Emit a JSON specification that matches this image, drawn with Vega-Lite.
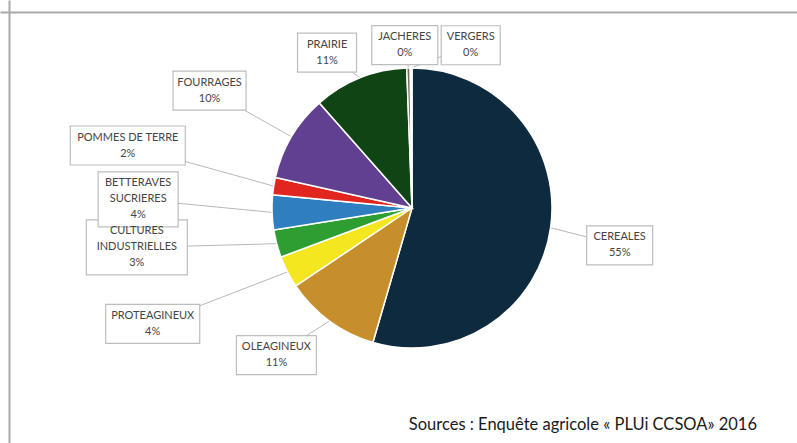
{
  "$schema": "https://vega.github.io/schema/vega-lite/v6.json",
  "autosize": {"type": "none"},
  "width": 797,
  "height": 443,
  "padding": 0,
  "background": "white",
  "title": {
    "text": "Sources : Enquête agricole « PLUi CCSOA» 2016",
    "orient": "bottom",
    "anchor": "end",
    "frame": "group",
    "offset": -26,
    "dx": -40,
    "font": "Lato",
    "fontSize": 16.5,
    "fontWeight": "normal",
    "color": "#1a1a1a"
  },
  "data": {
    "values": [
      {"crop": "CEREALES", "share": 54.5},
      {"crop": "OLEAGINEUX", "share": 11.1},
      {"crop": "PROTEAGINEUX", "share": 3.7},
      {"crop": "CULTURES INDUSTRIELLES", "share": 3.2},
      {"crop": "BETTERAVES SUCRIERES", "share": 4.0},
      {"crop": "POMMES DE TERRE", "share": 2.0},
      {"crop": "FOURRAGES", "share": 10.0},
      {"crop": "PRAIRIE", "share": 10.9},
      {"crop": "JACHERES", "share": 0.4},
      {"crop": "VERGERS", "share": 0.2}
    ]
  },
  "transform": [
    {"window": [{"op": "sum", "field": "share", "as": "c1"}, {"op": "row_number", "as": "i"}]},
    {"calculate": "datum.c1 - datum.share", "as": "c0"},
    {"calculate": "(datum.c1 - datum.share / 2) / 100 * 2 * PI", "as": "mid"},
    {"calculate": "datum.mid + [2.1, 6.5, 3.1, 6.6, 3.6, 3.4, -0.5, -6.9, -1.1, 20.2][datum.i - 1] * PI / 180", "as": "la"},
    {"calculate": "[211, 200, 284, 278, 274, 291, 234, 177, 163, 173][datum.i - 1]", "as": "lr"},
    {"calculate": "datum.lr * sin(datum.la)", "as": "lx"},
    {"calculate": "-datum.lr * cos(datum.la)", "as": "ly"},
    {"calculate": "140 * sin(datum.mid)", "as": "ex"},
    {"calculate": "-140 * cos(datum.mid)", "as": "ey"},
    {"calculate": "round(datum.share) + '%'", "as": "pct"},
    {"calculate": "length(split(datum.crop, ' ')) == 2 ? replace(datum.crop, ' ', '\\n') : datum.crop", "as": "nm"},
    {"calculate": "datum.nm + '\\n' + datum.pct", "as": "txt"},
    {"calculate": "length(split(datum.nm, '\\n')) + 1", "as": "nl"},
    {"calculate": "datum.ly - (datum.nl - 1) * 8", "as": "ty"},
    {"calculate": "max(length(split(datum.nm + '\\n', '\\n')[0]), length(split(datum.nm + '\\n', '\\n')[1]))", "as": "ml"},
    {"calculate": "datum.lx - (3.5 * datum.ml + 5)", "as": "bx0"},
    {"calculate": "datum.lx + (3.5 * datum.ml + 5)", "as": "bx1"},
    {"calculate": "datum.ly - (8 * datum.nl + 3.5)", "as": "by0"},
    {"calculate": "datum.ly + (8 * datum.nl + 3.5)", "as": "by1"}
  ],
  "encoding": {
    "x": {"type": "quantitative",
          "scale": {"domain": [-412, 385], "nice": false, "zero": false},
          "axis": {"orient": "top", "offset": -12, "domain": true, "domainColor": "#a9a9a9", "domainWidth": 2, "ticks": false, "labels": false, "grid": false, "title": null}},
    "y": {"type": "quantitative",
          "scale": {"domain": [-208, 235], "nice": false, "zero": false, "reverse": true},
          "axis": {"orient": "left", "offset": -9, "domain": true, "domainColor": "#a9a9a9", "domainWidth": 2, "ticks": false, "labels": false, "grid": false, "title": null}}
  },
  "layer": [
    {
      "mark": {"type": "rule", "color": "#b8b8b8", "strokeWidth": 1},
      "encoding": {
        "x": {"field": "ex", "type": "quantitative"},
        "y": {"field": "ey", "type": "quantitative"},
        "x2": {"field": "lx"},
        "y2": {"field": "ly"}
      }
    },
    {
      "mark": {"type": "arc", "outerRadius": 140, "stroke": "white", "strokeWidth": 1.5},
      "encoding": {
        "x": {"datum": 0, "type": "quantitative"},
        "y": {"datum": 0, "type": "quantitative"},
        "theta": {"field": "c0", "type": "quantitative", "scale": {"domain": [0, 100]}},
        "theta2": {"field": "c1"},
        "color": {
          "field": "crop", "type": "nominal", "legend": null,
          "scale": {
            "domain": ["CEREALES", "OLEAGINEUX", "PROTEAGINEUX", "CULTURES INDUSTRIELLES", "BETTERAVES SUCRIERES", "POMMES DE TERRE", "FOURRAGES", "PRAIRIE", "JACHERES", "VERGERS"],
            "range": ["#0e2a3e", "#c68f2c", "#f5e71f", "#2e9e33", "#2f7fc0", "#e0261f", "#614092", "#0f4514", "#7a6a55", "#eeeeee"]
          }
        }
      }
    },
    {
      "mark": {"type": "rect", "fill": "white", "stroke": "#bdbdbd", "strokeWidth": 1.2},
      "encoding": {
        "x": {"field": "bx0", "type": "quantitative"},
        "x2": {"field": "bx1"},
        "y": {"field": "by0", "type": "quantitative"},
        "y2": {"field": "by1"}
      }
    },
    {
      "mark": {"type": "text", "font": "Lato", "fontSize": 11, "color": "#444444", "align": "center", "baseline": "middle", "lineBreak": "\n", "lineHeight": 16},
      "encoding": {
        "x": {"field": "lx", "type": "quantitative"},
        "y": {"field": "ty", "type": "quantitative"},
        "text": {"field": "txt"}
      }
    }
  ],
  "config": {"view": {"stroke": null}}
}
